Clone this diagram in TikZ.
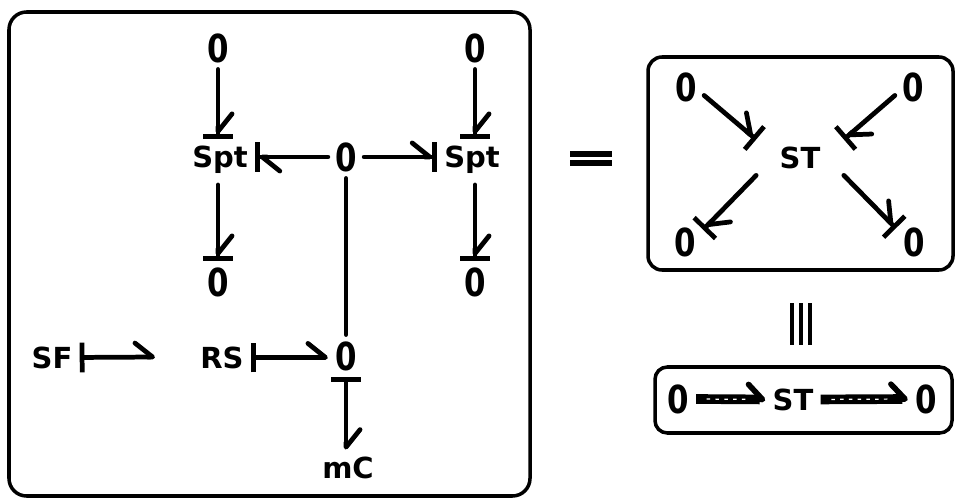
\documentclass[tikz,border=0pt]{standalone}
\usepackage{fontspec}
\setmainfont{DejaVu Sans}
\usepackage{graphicx}
\usetikzlibrary{arrows.meta}
\newcommand{\zr}{\scalebox{0.8}[1]{0}}
\tikzset{
  lbl/.style={font=\fontsize{16.5}{18}\selectfont\bfseries, inner sep=4pt, text height=12pt, text depth=0pt, anchor=base},
  zero/.style={font=\fontsize{22}{24}\selectfont\bfseries, inner sep=4pt, text height=16pt, text depth=0pt},
  bond/.style={line width=2.7pt, line cap=round},
  tobar/.style={-{Straight Barb[left,round,length=10pt,width=16pt]Bar[width=17pt]}},
  frombar/.style={{Bar[width=17pt]}-{Straight Barb[left,round,length=10pt,width=16pt]}},
  multibond/.style={line width=5.5pt, -{Straight Barb[left,round,line width=3.2pt,length=8pt,width=17pt]},
    postaction={draw=white, line width=0.7pt, dash pattern=on 2pt off 3pt, shorten >=10pt, shorten <=6pt, -}},
  frame/.style={line width=2pt}
}

\begin{document}
\begin{tikzpicture}[x=0.02cm, y=-0.02cm]
  \useasboundingbox (0,0) rectangle (956,500);

  % Full model
  \draw[frame, rounded corners=10pt] (9,12) rectangle (530,496);
  \node[zero] (zTL) at (218,48) {\zr};
  \node[zero] (zTR) at (475,48) {\zr};
  \node[lbl, text depth=6pt] (spL) at (220,167) {Spt};
  \node[zero] (zC) at (346,157) {\zr};
  \node[lbl, text depth=6pt] (spR) at (472,167) {Spt};
  \node[zero] (zBL) at (218,282) {\zr};
  \node[zero] (zBR) at (475,282) {\zr};
  \draw[bond,tobar] (zTL.south) -- (zTL.south |- spL.north);
  \draw[bond,tobar] (zTR.south) -- (zTR.south |- spR.north);
  \draw[bond,tobar] (zBL.north |- spL.south) -- (zBL.north);
  \draw[bond,tobar] (zBR.north |- spR.south) -- (zBR.north);
  \draw[bond,tobar] (zC.west) -- (zC.west -| spL.east);
  \draw[bond,tobar] (zC.east) -- (zC.east -| spR.west);

  % Sources and storage
  \node[lbl] (sf) at (52,368) {SF};
  \coordinate (sfEnd) at (155,357);
  \node[lbl] (rs) at (222,368) {RS};
  \node[zero] (zM) at (346,356) {\zr};
  \node[lbl] (mc) at (348,478) {mC};
  \draw[bond,frombar] (sf.east) -- (sfEnd);
  \draw[bond,frombar] (rs.east) -- (rs.east -| zM.west);
  \draw[bond,frombar] (zM.south) -- (zM.south |- mc.north);
  \draw[bond] (zC.south) -- (zC.south |- zM.north);

  % Equivalent
  \fill (570,151) rectangle (612,157);
  \fill (570,160) rectangle (612,166);

  % Scalar transformer
  \draw[frame, rounded corners=8pt] (648,57) rectangle (953,270);
  \node[zero] (rTL) at (686,87) {\zr};
  \node[zero] (rTR) at (913,87) {\zr};
  \node[zero] (rBL) at (685,242) {\zr};
  \node[zero] (rBR) at (914,242) {\zr};
  \node[lbl, minimum width=1.74cm] (st) at (800,168) {ST};
  \draw[bond,tobar] (rTL.-25) -- (st.north west);
  \draw[bond,tobar] (rTR.205) -- (st.north east);
  \draw[bond,tobar] (st.south west) -- (rBL.34);
  \draw[bond,tobar] (st.south east) -- (rBR.143);

  % Identical
  \draw[line width=2.2pt] (792,303) -- (792,345) (801,303) -- (801,345) (810,303) -- (810,345);

  % Multibond form
  \draw[frame, rounded corners=7pt] (655,367) rectangle (952,433);
  \node[zero] (bz1) at (678,399) {\zr};
  \node[lbl] (bst) at (793,410) {ST};
  \node[zero] (bz2) at (926,399) {\zr};
  \draw[multibond] (bz1.east) -- (bst.west);
  \draw[multibond] (bst.east) -- (bz2.west);
\end{tikzpicture}
\end{document}
